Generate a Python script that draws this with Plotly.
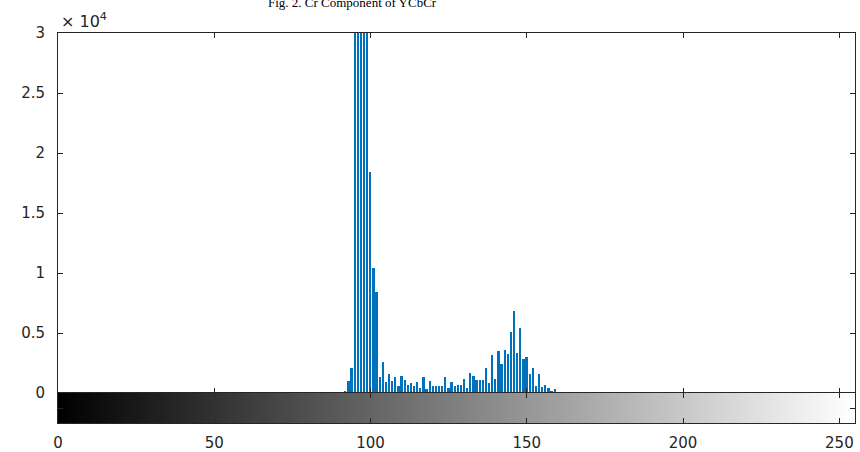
import plotly.graph_objects as go

# ---- data ----
bins = list(range(92, 160))
counts = [
    100, 1000, 2100,                          # 92-94
    48000, 71000, 93000, 62000, 39000,        # 95-99 (clipped above 3e4)
    18400, 10400, 8400,                       # 100-102
    1300, 2600, 900, 1600, 1000, 1300, 600, 1400, 1100, 700,   # 103-112
    800, 600, 900, 400, 1300, 300, 1000, 600,                  # 113-120
    600, 600, 600, 1300, 400, 900, 600, 700, 700, 1200,        # 121-130
    400, 1700, 1400, 1100, 1100, 1100, 2100, 800,              # 131-138
    3200, 1200, 3500, 2400, 3600, 3250, 5100, 6800, 3300, 5400, # 139-148
    2800, 3000, 1550, 2100, 600, 1550, 500, 650, 450, 170, 330, # 149-159
]
gray_levels = list(range(256))
x_ticks = [0, 50, 100, 150, 200, 250]
x_tick_labels = ["0", "50", "100", "150", "200", "250"]
y_ticks = [0, 5000, 10000, 15000, 20000, 25000, 30000]
y_tick_labels = ["0", "0.5", "1", "1.5", "2", "2.5", "3"]
title_text = "Fig. 2. Cr Component of YCbCr"

FONT = dict(family="DejaVu Sans", size=15, color="#262626")
AXC = "#262626"

fig = go.Figure()
fig.add_trace(go.Bar(x=bins, y=counts, width=0.55,
                     marker=dict(color="#0072BD", line=dict(width=0)),
                     xaxis="x", yaxis="y", showlegend=False))
fig.add_trace(go.Heatmap(z=[gray_levels], x=gray_levels, y=[0],
                         colorscale=[[0, "#000000"], [1, "#ffffff"]],
                         zmin=0, zmax=255, showscale=False,
                         xaxis="x2", yaxis="y2", hoverinfo="skip"))

common = dict(showline=True, linecolor=AXC, linewidth=1, ticks="inside",
              ticklen=5, tickwidth=1, tickcolor=AXC, mirror="ticks",
              showgrid=False, zeroline=False, tickfont=FONT, automargin=False)

fig.update_layout(
    width=860, height=452,
    margin=dict(l=58, r=5, t=33, b=29, autoexpand=False),
    paper_bgcolor="white", plot_bgcolor="white",
    bargap=0,
    xaxis=dict(domain=[0, 1], anchor="y", range=[0, 255], tickvals=x_ticks,
               showticklabels=False, **common),
    yaxis=dict(domain=[30 / 390, 1], anchor="x", range=[0, 30000],
               tickvals=y_ticks, ticktext=y_tick_labels,
               ticklabelstandoff=9, **common),
    xaxis2=dict(domain=[0, 1], anchor="y2", range=[0, 255], tickvals=x_ticks,
                ticktext=x_tick_labels, ticklabelstandoff=6, **common),
    yaxis2=dict(domain=[0, 30 / 390], anchor="x2", range=[-0.5, 0.5],
                tickvals=[0], showticklabels=False, **common),
    annotations=[
        dict(text="× 10<sup>4</sup>", xref="paper", yref="paper",
             x=0, y=1, xanchor="left", yanchor="bottom", xshift=1, yshift=0,
             showarrow=False, font=dict(family="DejaVu Sans", size=16, color="#262626")),
        dict(text=title_text, xref="paper", yref="paper",
             x=(352 - 58) / 797, y=1 + (33 - 12) / 390,
             xanchor="center", yanchor="bottom", showarrow=False,
             font=dict(family="Liberation Serif", size=13, color="#000000")),
    ],
)

fig.write_html("out.html",
               config={"displayModeBar": False},
               post_script="document.body.style.margin='0';"
                           "document.body.style.overflow='hidden';")
